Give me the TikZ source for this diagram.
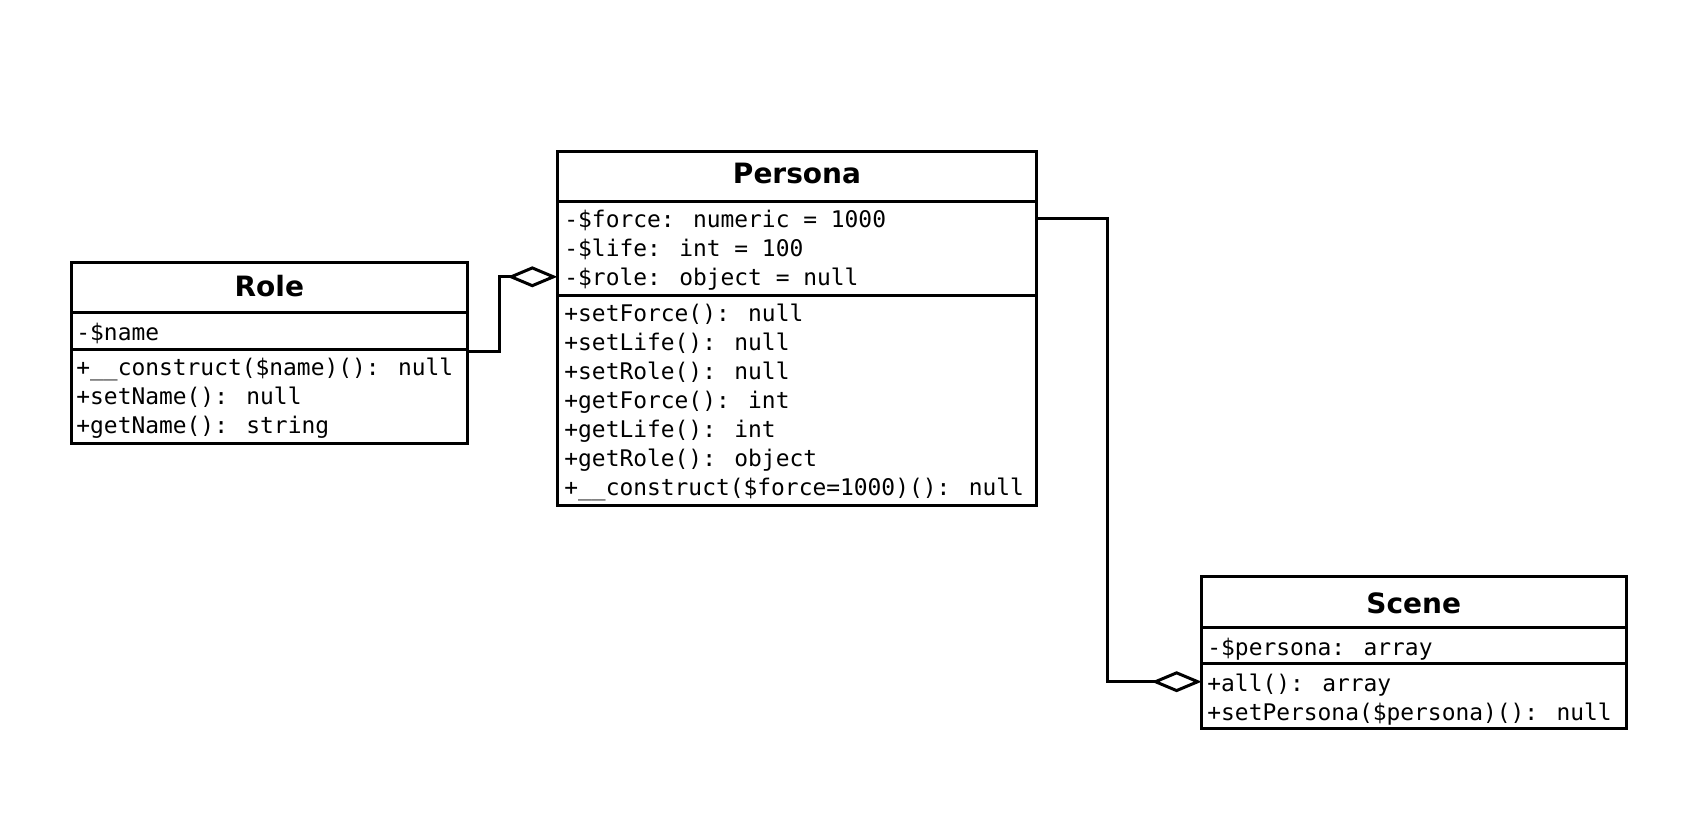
\documentclass[tikz,border=0pt]{standalone}
\usepackage{fontspec}
\usetikzlibrary{arrows.meta}
\newfontfamily\umlmono{DejaVu Sans Mono}
\newfontfamily\umlsans{DejaVu Sans}

\tikzset{
  box/.style={draw=black, line width=1.5pt},
  member/.style={anchor=base west, inner sep=0pt, font=\umlmono\fontsize{11.45}{13}\selectfont},
  title/.style={anchor=base, inner sep=0pt, font=\umlsans\bfseries\fontsize{14}{16}\selectfont},
  agg/.style={draw=black, line width=1.5pt,
    {Diamond[open, length=25pt, width=10.5pt, line width=1.5pt]}-},
}

\begin{document}
\begin{tikzpicture}[x=0.5pt, y=-0.5pt]
\useasboundingbox (0,0) rectangle (1702,830);

% ---- Role ----
\coordinate (roleNW) at (71.7,262.7);
\coordinate (roleSE) at (467,443);
\draw[box] (roleNW) rectangle (roleSE);
\draw[box] (roleNW |- 0,312) -- (roleSE |- 0,312);
\draw[box] (roleNW |- 0,349) -- (roleSE |- 0,349);
\node[title] (roleT) at (269.3,296.7) {Role};
\node[member] (roleA1) at (76,340.5) {-\$name};
\node[member] (roleM1) at (76,375.8) {+\_\_construct(\$name)(): null};
\node[member] (roleM2) at (76,404.5) {+setName(): null};
\node[member] (roleM3) at (76,433.2) {+getName(): string};

% ---- Persona ----
\coordinate (perNW) at (557.3,151);
\coordinate (perSE) at (1036.7,505);
\draw[box] (perNW) rectangle (perSE);
\draw[box] (perNW |- 0,201) -- (perSE |- 0,201);
\draw[box] (perNW |- 0,295) -- (perSE |- 0,295);
\node[title] (perT) at (797,183.3) {Persona};
\node[member] (perA1) at (564,227) {-\$force: numeric = 1000};
\node[member] (perA2) at (564,256) {-\$life: int = 100};
\node[member] (perA3) at (564,285) {-\$role: object = null};
\node[member] (perM1) at (564,321) {+setForce(): null};
\node[member] (perM2) at (564,350) {+setLife(): null};
\node[member] (perM3) at (564,379) {+setRole(): null};
\node[member] (perM4) at (564,408) {+getForce(): int};
\node[member] (perM5) at (564,437) {+getLife(): int};
\node[member] (perM6) at (564,466) {+getRole(): object};
\node[member] (perM7) at (564,495) {+\_\_construct(\$force=1000)(): null};

% ---- Scene ----
\coordinate (scNW) at (1201.6,576.4);
\coordinate (scSE) at (1626,728.4);
\draw[box] (scNW) rectangle (scSE);
\draw[box] (scNW |- 0,627.4) -- (scSE |- 0,627.4);
\draw[box] (scNW |- 0,663.3) -- (scSE |- 0,663.3);
\node[title] (scT) at (1413.8,613.3) {Scene};
\node[member] (scA1) at (1207,655.8) {-\$persona: array};
\node[member] (scM1) at (1207,691.8) {+all(): array};
\node[member] (scM2) at (1207,720) {+setPersona(\$persona)(): null};

% ---- aggregations ----
\coordinate (perIn)   at (perNW |- 0,276.8);
\coordinate (roleOut) at (roleSE |- 0,351.7);
\coordinate (scIn)    at (scNW |- 0,681.7);
\coordinate (perOut)  at (perSE |- 0,218.2);
\draw[agg] (perIn) -- (499.3,276.8) |- (roleOut);
\draw[agg] (scIn) -- (1107.2,681.7) |- (perOut);
\end{tikzpicture}
\end{document}
